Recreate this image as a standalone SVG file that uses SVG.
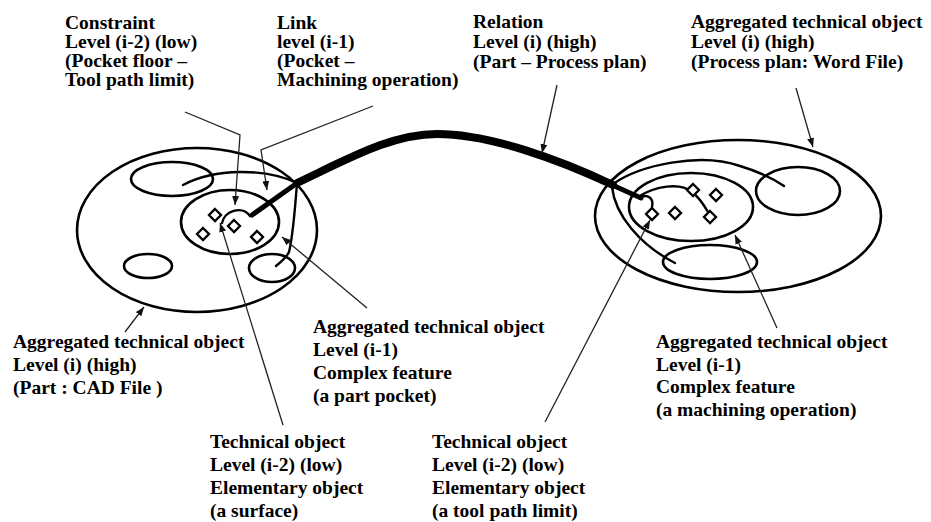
<svg xmlns="http://www.w3.org/2000/svg" width="931" height="522" viewBox="0 0 931 522">
<defs>
<marker id="ah" markerWidth="9" markerHeight="7" refX="9" refY="3.5" orient="auto" markerUnits="userSpaceOnUse">
<path d="M0,0 L9,3.5 L0,7 z" fill="#111"/>
</marker>
</defs>
<style>
.t{font-family:"Liberation Serif","Times New Roman",serif;font-weight:bold;font-size:19.5px;fill:#000}
.e{fill:none;stroke:#000;stroke-width:2.6}
.c{fill:none;stroke:#000;stroke-width:2.4;stroke-linecap:round}
.d{fill:#fff;stroke:#000;stroke-width:2.3}
.a{fill:none;stroke:#222;stroke-width:1.3;marker-end:url(#ah)}
</style>
<rect width="931" height="522" fill="#fff"/>

<g id="part-left">
<ellipse class="e" cx="197" cy="230" rx="120" ry="82"/>
<ellipse class="e" cx="172" cy="179" rx="41" ry="17"/>
<ellipse class="e" cx="148" cy="266" rx="24" ry="12"/>
<ellipse class="e" cx="272" cy="268" rx="23" ry="14"/>
<path class="c" d="M297,183 C265,168 215,168 183,185"/>
<path class="c" d="M297,183 C295,210 292,240 289,252 C286,258 281,262 276,266"/>
</g>

<g id="pocket-left">
<ellipse class="e" cx="230" cy="222" rx="49" ry="32"/>
<path class="c" d="M222,223 C224,211 242,205 250,216" stroke-width="3.2"/>
<path class="d" d="M215,209 L221,215 L215,221 L209,215 z"/>
<path class="d" d="M203,228 L209,234 L203,240 L197,234 z"/>
<path class="d" d="M234,220 L240,226 L234,232 L228,226 z"/>
<path class="d" d="M257,231 L263,237 L257,243 L251,237 z"/>
</g>

<g id="plan-right">
<ellipse class="e" cx="738" cy="216" rx="143" ry="76"/>
<ellipse class="e" cx="798" cy="191" rx="42" ry="24"/>
<ellipse class="e" cx="710" cy="262" rx="47" ry="17"/>
<path class="c" d="M613,184 C640,165 700,152 740,166 C760,172 775,180 784,186"/>
<path class="c" d="M612,187 C615,215 640,245 675,263"/>
</g>

<g id="operation-right">
<ellipse class="e" cx="691" cy="207" rx="62" ry="34"/>
<path class="c" d="M640,197 C648,194 654,198 652,207" stroke-width="2.6"/>
<path class="c" d="M638,197 C655,186 680,182 692,192 C700,198 705,207 708,212"/>
<path class="d" d="M693,184 L699,190 L693,196 L687,190 z"/>
<path class="d" d="M716,189 L722,195 L716,201 L710,195 z"/>
<path class="d" d="M675,207 L681,213 L675,219 L669,213 z"/>
<path class="d" d="M652,208 L658,214 L652,220 L646,214 z"/>
<path class="d" d="M710,211 L716,217 L710,223 L704,217 z"/>
</g>

<g id="relation">
<path d="M297,183 C350,158 392,134 437,134 C490,134 560,160 613,185" fill="none" stroke="#000" stroke-width="8" stroke-linecap="round"/>
<path d="M300,181 L252,215" fill="none" stroke="#000" stroke-width="5" stroke-linecap="round"/>
<path d="M610,184 L641,198" fill="none" stroke="#000" stroke-width="5" stroke-linecap="round"/>
</g>

<g id="connectors">
<polyline class="a" points="185,112 240,135 235,205"/>
<polyline class="a" points="373,106 261,150 267,190"/>
<line class="a" x1="557" y1="85" x2="542" y2="153"/>
<line class="a" x1="796" y1="88" x2="813" y2="147"/>
<line class="a" x1="125" y1="332" x2="144" y2="307"/>
<line class="a" x1="283" y1="425" x2="220" y2="223"/>
<line class="a" x1="367" y1="308" x2="282" y2="237"/>
<line class="a" x1="545" y1="422" x2="650" y2="220"/>
<line class="a" x1="777" y1="328" x2="735" y2="235"/>
</g>

<g id="label-constraint">
<text class="t" x="65" y="29">Constraint</text>
<text class="t" x="65" y="48">Level (i-2) (low)</text>
<text class="t" x="65" y="67">(Pocket floor –</text>
<text class="t" x="65" y="86">Tool path limit)</text>
</g>
<g id="label-link">
<text class="t" x="277" y="29">Link</text>
<text class="t" x="277" y="48">level (i-1)</text>
<text class="t" x="277" y="67">(Pocket –</text>
<text class="t" x="277" y="86">Machining operation)</text>
</g>
<g id="label-relation">
<text class="t" x="473" y="28">Relation</text>
<text class="t" x="473" y="48">Level (i) (high)</text>
<text class="t" x="473" y="68">(Part – Process plan)</text>
</g>
<g id="label-agg-plan">
<text class="t" x="691" y="28">Aggregated technical object</text>
<text class="t" x="691" y="48">Level (i) (high)</text>
<text class="t" x="691" y="68">(Process plan: Word File)</text>
</g>
<g id="label-agg-part">
<text class="t" x="13" y="348">Aggregated technical object</text>
<text class="t" x="13" y="371">Level (i) (high)</text>
<text class="t" x="13" y="394">(Part : CAD File )</text>
</g>
<g id="label-agg-pocket">
<text class="t" x="313" y="333">Aggregated technical object</text>
<text class="t" x="313" y="356">Level (i-1)</text>
<text class="t" x="313" y="379">Complex feature</text>
<text class="t" x="313" y="402">(a part pocket)</text>
</g>
<g id="label-agg-operation">
<text class="t" x="656" y="348">Aggregated technical object</text>
<text class="t" x="656" y="371">Level (i-1)</text>
<text class="t" x="656" y="393">Complex feature</text>
<text class="t" x="656" y="416">(a machining operation)</text>
</g>
<g id="label-tech-surface">
<text class="t" x="210" y="448">Technical object</text>
<text class="t" x="210" y="471">Level (i-2) (low)</text>
<text class="t" x="210" y="494">Elementary object</text>
<text class="t" x="210" y="517">(a surface)</text>
</g>
<g id="label-tech-limit">
<text class="t" x="432" y="448">Technical object</text>
<text class="t" x="432" y="471">Level (i-2) (low)</text>
<text class="t" x="432" y="494">Elementary object</text>
<text class="t" x="432" y="517">(a tool path limit)</text>
</g>
</svg>
